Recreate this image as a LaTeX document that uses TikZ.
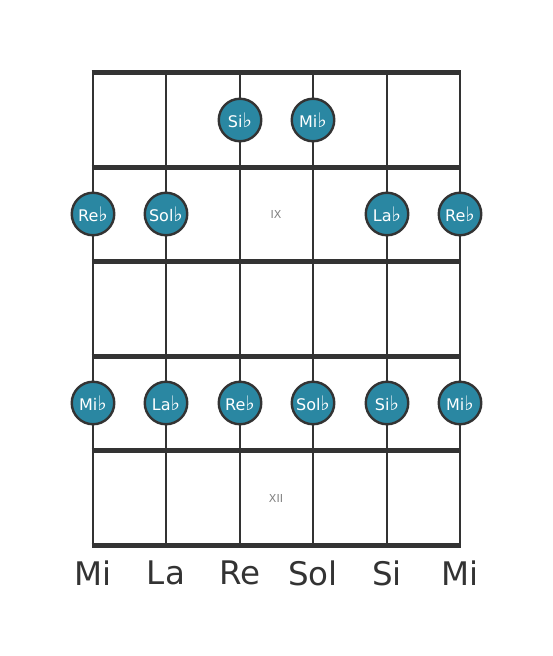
\documentclass[tikz,border=0pt]{standalone}
\usepackage{fontspec}
\setmainfont{DejaVu Sans}
\definecolor{notefill}{RGB}{42,135,162}
\definecolor{ink}{RGB}{51,51,51}
\begin{document}
\begin{tikzpicture}[x=1pt,y=-1pt,
  fretline/.style={ink,line width=5pt},
  stringline/.style={ink,line width=2.7pt},
  note/.style={circle,draw=ink,line width=2.4pt,fill=notefill,minimum size=42.5pt,inner sep=0pt,text=white,font=\fontsize{16}{16}\selectfont},
  strlabel/.style={text=ink,font=\fontsize{32.5}{32.5}\selectfont},
  fretnum/.style={text=gray,font=\fontsize{11}{11}\selectfont}]
\newcommand{\fl}{{\fontsize{20}{16}\selectfont ♭}}
\useasboundingbox (0,0) rectangle (553,656);
% strings
\foreach \x [count=\i] in {93,166,240,313,387,460}{
  \coordinate (s\i t) at (\x,72);
  \coordinate (s\i b) at (\x,545);
  \draw[stringline] (s\i t) -- (s\i b);
}
% frets
\foreach \y [count=\j] in {72,167,261,356,450,545}{
  \coordinate (f\j l) at (93,\y);
  \coordinate (f\j r) at (460,\y);
  \draw[fretline] ([xshift=-1.35pt]f\j l) -- ([xshift=1.35pt]f\j r);
}
% fret numbers
\node[fretnum] (ix) at (276,214) {IX};
\node[fretnum] (xii) at (276,498) {XII};
% notes
\node[note] (n1) at (240,120) {Si\fl};
\node[note] (n2) at (313,120) {Mi\fl};
\node[note] (n3) at (93,214) {Re\fl};
\node[note] (n4) at (166,214) {Sol\fl};
\node[note] (n5) at (387,214) {La\fl};
\node[note] (n6) at (460,214) {Re\fl};
\node[note] (n7) at (93,403) {Mi\fl};
\node[note] (n8) at (166,403) {La\fl};
\node[note] (n9) at (240,403) {Re\fl};
\node[note] (n10) at (313,403) {Sol\fl};
\node[note] (n11) at (387,403) {Si\fl};
\node[note] (n12) at (460,403) {Mi\fl};
% string labels
\node[strlabel] (l1) at (93,573) {Mi};
\node[strlabel] (l2) at (166,573) {La};
\node[strlabel] (l3) at (240,573) {Re};
\node[strlabel] (l4) at (313,573) {Sol};
\node[strlabel] (l5) at (387,573) {Si};
\node[strlabel] (l6) at (460,573) {Mi};
\end{tikzpicture}
\end{document}
